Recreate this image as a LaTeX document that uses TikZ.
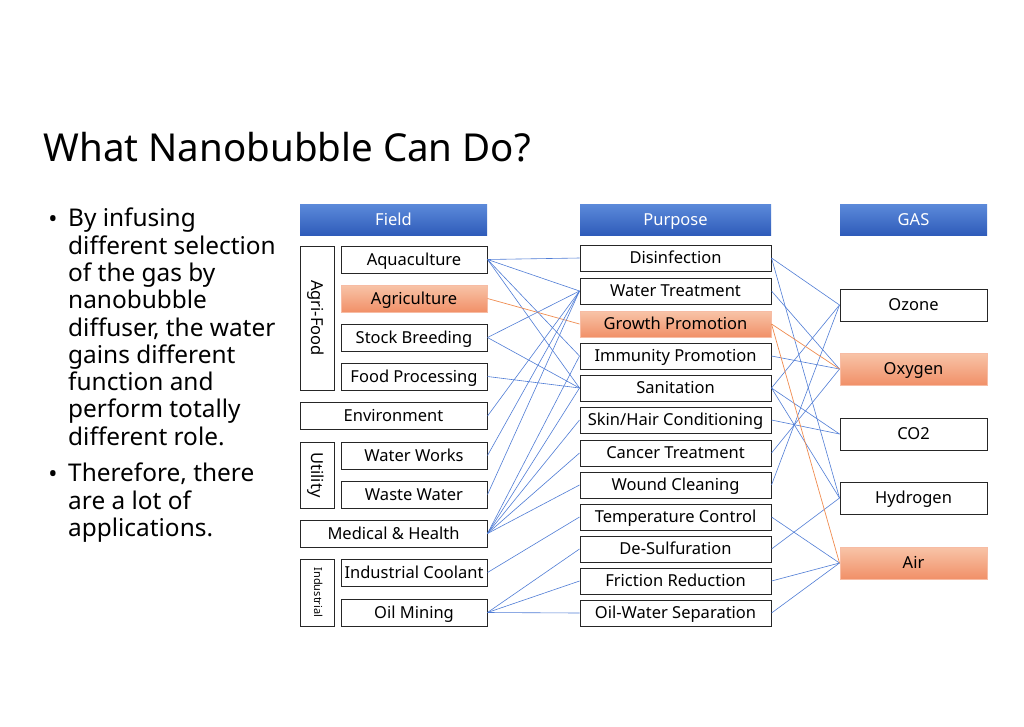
\documentclass[tikz,border=0pt]{standalone}
\usepackage{fontspec}
\setmainfont{Noto Sans}
\definecolor{hdrtop}{RGB}{92,138,218}
\definecolor{hdrbot}{RGB}{47,92,186}
\definecolor{orgtop}{RGB}{248,196,168}
\definecolor{orgbot}{RGB}{241,144,104}
\definecolor{linkblue}{RGB}{80,125,214}
\definecolor{linkorange}{RGB}{240,140,80}
\begin{document}
\begin{tikzpicture}[x=1pt,y=-1pt,
    box/.style={draw=black!85,line width=1pt,inner sep=0pt,text height=14pt,text depth=3pt,
        font=\fontsize{16.5}{18}\selectfont},
    sub/.style={box,minimum width=146pt,minimum height=27pt},
    wide/.style={box,minimum width=187pt,minimum height=27pt},
    purp/.style={box,minimum width=191pt,minimum height=26pt},
    gas/.style={box,minimum width=147pt,minimum height=32pt},
    hot/.style={draw=orgbot!60!white,top color=orgtop,bottom color=orgbot},
    head/.style={minimum height=31pt,inner sep=0pt,text height=14pt,text depth=3pt,
        top color=hdrtop,bottom color=hdrbot,text=white,font=\fontsize{16.5}{18}\selectfont},
    grp/.style={box,minimum height=34pt,rotate=-90},
    link/.style={linkblue,line width=0.6pt},
    hotlink/.style={linkorange,line width=0.7pt}]
    \useasboundingbox[fill=white] (0,0) rectangle (1024,726);
    \node (title) [anchor=west,font=\fontsize{38.5}{44}\selectfont] at (40,147) {What Nanobubble Can Do?};
    \node (dot1) [font=\fontsize{24.4}{27}\selectfont] at (53,222) {•};
    \node (text1) [anchor=north west,align=left,inner sep=0pt,font=\fontsize{24.4}{27.3}\selectfont] at (68,208)
        {By infusing\\different selection\\of the gas by\\nanobubble\\diffuser, the water\\gains different\\function and\\perform totally\\different role.};
    \node (dot2) [font=\fontsize{24.4}{27}\selectfont] at (53,477) {•};
    \node (text2) [anchor=north west,align=left,inner sep=0pt,font=\fontsize{24.4}{27.3}\selectfont] at (68,463)
        {Therefore, there\\are a lot of\\applications.};

    \node (hfield) [head,minimum width=187pt] at (393.5,219.5) {Field};
    \node (hpurp) [head,minimum width=191pt] at (675.5,219.5) {Purpose};
    \node (hgas) [head,minimum width=147pt] at (913.5,219.5) {GAS};

    \node (agrifood) [grp,minimum width=144pt] at (317,318) {Agri-Food};
    \node (utility) [grp,minimum width=66pt] at (317,475) {Utility};
    \node (industrial) [grp,minimum width=67pt,text height=8pt,text depth=2pt,
        font=\fontsize{11}{12}\selectfont] at (317,592.5) {Industrial};
    \node (aqua) [sub] at (414,259.5) {Aquaculture};
    \node (agri) [sub,hot] at (414,298.5) {Agriculture};
    \node (stock) [sub] at (414,337.5) {Stock Breeding};
    \node (food) [sub] at (414,376.5) {Food Processing};
    \node (env) [wide] at (393.5,416) {Environment};
    \node (works) [sub] at (414,455.5) {Water Works};
    \node (waste) [sub] at (414,494.5) {Waste Water};
    \node (med) [wide] at (393.5,533.5) {Medical \& Health};
    \node (cool) [sub] at (414,572.5) {Industrial Coolant};
    \node (oil) [sub] at (414,612.5) {Oil Mining};

    \node (disinf) [purp] at (675.5,258) {Disinfection};
    \node (treat) [purp] at (675.5,291) {Water Treatment};
    \node (growth) [purp,hot] at (675.5,324) {Growth Promotion};
    \node (immun) [purp] at (675.5,356) {Immunity Promotion};
    \node (sanit) [purp] at (675.5,388) {Sanitation};
    \node (skin) [purp] at (675.5,420) {Skin/Hair Conditioning};
    \node (cancer) [purp] at (675.5,453) {Cancer Treatment};
    \node (wound) [purp] at (675.5,485) {Wound Cleaning};
    \node (temp) [purp] at (675.5,517) {Temperature Control};
    \node (desulf) [purp] at (675.5,549) {De-Sulfuration};
    \node (fric) [purp] at (675.5,581) {Friction Reduction};
    \node (sep) [purp] at (675.5,613) {Oil-Water Separation};

    \node (ozone) [gas] at (913.5,305) {Ozone};
    \node (oxy) [gas,hot] at (913.5,369) {Oxygen};
    \node (co2) [gas] at (913.5,434) {CO2};
    \node (hydro) [gas] at (913.5,498) {Hydrogen};
    \node (air) [gas,hot] at (913.5,563) {Air};

    \draw[link] (aqua.east) -- (disinf.west);
    \draw[link] (aqua.east) -- (treat.west);
    \draw[link] (aqua.east) -- (immun.west);
    \draw[link] (aqua.east) -- (sanit.west);
    \draw[hotlink] (agri.east) -- (growth.west);
    \draw[link] (stock.east) -- (treat.west);
    \draw[link] (stock.east) -- (sanit.west);
    \draw[link] (food.east) -- (sanit.west);
    \draw[link] (env.east) -- (treat.west);
    \draw[link] (works.east) -- (treat.west);
    \draw[link] (waste.east) -- (treat.west);
    \draw[link] (med.east) -- (immun.west);
    \draw[link] (med.east) -- (sanit.west);
    \draw[link] (med.east) -- (skin.west);
    \draw[link] (med.east) -- (cancer.west);
    \draw[link] (med.east) -- (wound.west);
    \draw[link] (cool.east) -- (temp.west);
    \draw[link] (oil.east) -- (desulf.west);
    \draw[link] (oil.east) -- (fric.west);
    \draw[link] (oil.east) -- (sep.west);

    \draw[link] (disinf.east) -- (ozone.west);
    \draw[link] (disinf.east) -- (hydro.west);
    \draw[link] (treat.east) -- (oxy.west);
    \draw[link] (immun.east) -- (oxy.west);
    \draw[link] (sanit.east) -- (ozone.west);
    \draw[link] (sanit.east) -- (co2.west);
    \draw[link] (sanit.east) -- (hydro.west);
    \draw[link] (skin.east) -- (co2.west);
    \draw[link] (cancer.east) -- (oxy.west);
    \draw[link] (wound.east) -- (ozone.west);
    \draw[link] (temp.east) -- (air.west);
    \draw[link] (desulf.east) -- (hydro.west);
    \draw[link] (fric.east) -- (air.west);
    \draw[link] (sep.east) -- (air.west);
    \draw[hotlink] (growth.east) -- (oxy.west);
    \draw[hotlink] (growth.east) -- (air.west);
\end{tikzpicture}
\end{document}
